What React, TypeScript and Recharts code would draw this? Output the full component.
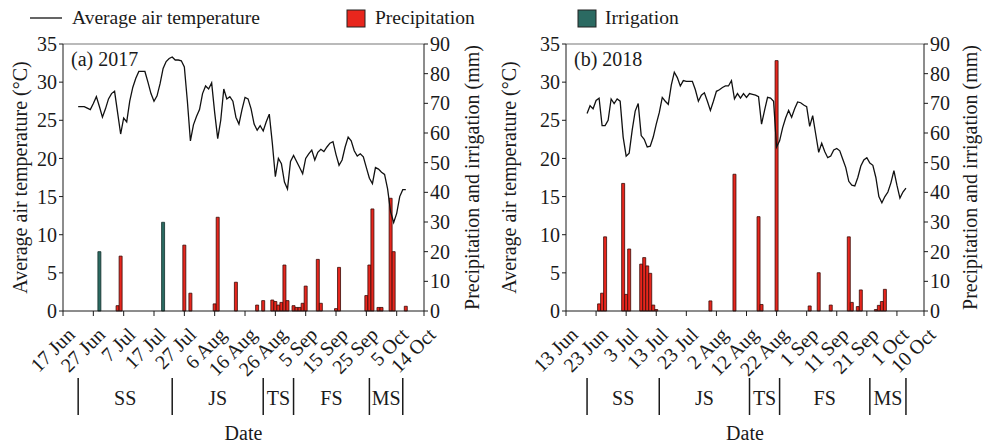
import React from 'react'
import { ComposedChart, Bar, Line, XAxis, YAxis, ReferenceLine } from 'recharts'

const FONT = '"Liberation Serif", "Times New Roman", serif'
const FS = 20
const INK = '#1a1a1a'
const RAIN_RED = '#e8261d'
const IRRIG_TEAL = '#2b6a62'

// x axis is "days since first tick"
const dateTicks = [0, 10, 20, 30, 40, 50, 60, 70, 80, 90, 100, 110, 119]
const dateLabels2017 = ['17 Jun', '27 Jun', '7 Jul', '17 Jul', '27 Jul', '6 Aug', '16 Aug', '26 Aug', '5 Sep', '15 Sep', '25 Sep', '5 Oct', '14 Oct']
const dateLabels2018 = ['13 Jun', '23 Jun', '3 Jul', '13 Jul', '23 Jul', '2 Aug', '12 Aug', '22 Aug', '1 Sep', '11 Sep', '21 Sep', '1 Oct', '10 Oct']

const tempTicks = [0, 5, 10, 15, 20, 25, 30, 35]
const rainTicks = [0, 10, 20, 30, 40, 50, 60, 70, 80, 90]

// daily mean air temperature (°C), first value is at day tempStart
const tempStart2017 = 5
const temp2017 = [
  26.8, 26.8, 26.8, 26.6, 26.4, 27.2, 28.1, 26.8, 25.4, 26.5,
  27.8, 28.5, 28.8, 26.0, 23.2, 25.3, 24.8, 27.5, 29.3, 30.5,
  31.4, 31.4, 31.4, 30.0, 28.5, 27.5, 28.2, 29.8, 31.8, 32.7,
  33.1, 33.3, 32.9, 32.9, 32.8, 32.0, 27.5, 22.3, 24.4, 25.5,
  26.4, 28.5, 29.5, 29.1, 29.9, 26.0, 22.6, 25.0, 29.1, 27.8,
  28.1, 27.5, 25.4, 24.5, 26.4, 28.0, 27.8, 26.5, 24.5, 23.7,
  24.3, 23.6, 24.8, 25.8, 22.0, 17.6, 20.0, 19.3, 16.9, 16.0,
  19.6, 20.4, 19.6, 18.8, 18.0, 20.0, 20.6, 21.1, 19.8, 20.8,
  21.2, 20.9, 21.5, 22.0, 22.2, 20.5, 19.1, 19.8, 21.5, 22.8,
  22.3, 21.0, 20.3, 20.6, 20.2, 18.8, 17.4, 16.7, 18.8, 18.6,
  18.2, 17.9, 16.0, 13.0, 11.6, 12.8, 15.0, 15.9, 15.9,
]
const tempStart2018 = 7
const temp2018 = [
  25.9, 26.9, 26.5, 27.6, 27.9, 24.3, 24.3, 25.0, 27.8, 27.2,
  27.8, 27.5, 22.8, 20.3, 20.7, 23.7, 26.2, 27.2, 23.0, 22.5,
  21.5, 21.6, 22.8, 24.5, 26.0, 28.0, 27.5, 27.1, 29.6, 31.3,
  30.6, 29.5, 30.2, 30.1, 30.1, 30.1, 29.0, 27.5, 28.3, 28.6,
  27.5, 26.3, 27.5, 28.8, 29.0, 29.3, 29.5, 29.5, 30.2, 27.8,
  28.5, 27.9, 28.5, 28.0, 28.5, 28.4, 28.3, 28.1, 24.5, 26.3,
  28.0, 27.9, 27.5, 21.5, 22.3, 24.0, 25.3, 26.3, 25.4, 26.5,
  27.4, 27.3, 27.0, 26.8, 24.2, 25.6, 23.2, 20.8, 22.0, 20.9,
  20.1, 20.3, 21.1, 21.3, 21.0, 19.9, 18.8, 17.0, 16.5, 16.4,
  17.5, 19.0, 19.8, 20.1, 19.4, 19.1, 17.5, 15.0, 14.2, 15.0,
  15.6, 16.8, 18.4, 16.5, 14.8, 15.6, 16.1,
]

// precipitation and irrigation (mm) by day
const precipDays2017 = [18, 19, 40, 42, 50, 51, 57, 64, 66, 69, 70, 71, 72, 73, 74, 76, 77, 78, 79, 80, 84, 85, 90, 91, 100, 101, 102, 104, 105, 108, 109, 113]
const precip2017 = [1.8, 18.5, 22.2, 6.0, 2.4, 31.6, 9.7, 2.0, 3.5, 3.7, 3.2, 2.0, 2.9, 15.5, 3.5, 1.8, 1.2, 1.2, 2.6, 8.4, 17.4, 2.6, 0.8, 14.7, 5.2, 15.5, 34.4, 1.2, 1.2, 38.0, 20.0, 1.6]
const irrigDays2017 = [12, 33]
const irrig2017 = [20.0, 29.9]

const precipDays2018 = [11, 12, 13, 19, 20, 21, 25, 26, 27, 28, 29, 30, 48, 56, 64, 65, 70, 81, 84, 88, 94, 95, 97, 98, 103, 104, 105, 106]
const precip2018 = [2.4, 6.0, 25.0, 43.0, 5.6, 20.9, 15.8, 18.0, 15.2, 12.7, 2.0, 0.5, 3.4, 46.1, 31.8, 2.2, 84.4, 1.7, 12.9, 2.0, 25.0, 2.9, 1.5, 7.1, 0.5, 1.9, 3.2, 7.3]
const irrigDays2018: number[] = []
const irrig2018: number[] = []

// growth stages, boundaries in days
const stageNames = ['SS', 'JS', 'TS', 'FS', 'MS']
const stageBounds2017 = [5, 36, 66, 76, 101, 112]
const stageBounds2018 = [7, 31, 61, 71, 101, 113]

function buildData(tempStart: number, temps: number[], pDays: number[], pVals: number[], iDays: number[], iVals: number[]) {
  return Array.from({ length: 120 }, (_, day) => {
    const ti = day - tempStart
    const pi = pDays.indexOf(day)
    const ii = iDays.indexOf(day)
    return {
      day,
      temp: ti >= 0 && ti < temps.length ? temps[ti] : null,
      precip: pi >= 0 ? pVals[pi] : null,
      irrig: ii >= 0 ? iVals[ii] : null,
    }
  })
}

const data2017 = buildData(tempStart2017, temp2017, precipDays2017, precip2017, irrigDays2017, irrig2017)
const data2018 = buildData(tempStart2018, temp2018, precipDays2018, precip2018, irrigDays2018, irrig2018)

function DateTick(props: any) {
  const { x, y, payload, labels } = props
  const i = dateTicks.indexOf(payload.value)
  const ax = x + 13
  const ay = y + 18
  return (
    <text x={ax} y={ay} textAnchor="end" transform={`rotate(-45, ${ax}, ${ay})`} fontSize={FS} fontFamily={FONT} fill={INK}>
      {labels[i]}
    </text>
  )
}

function StageTick(props: any) {
  const { x, y, payload, bounds } = props
  const v = payload.value
  if (bounds.includes(v)) {
    return <line x1={x} x2={x} y1={y + 1} y2={y + 38} stroke={INK} strokeWidth={1.5} />
  }
  const idx = bounds.findIndex((b: number, k: number) => k < bounds.length - 1 && v > b && v < bounds[k + 1])
  return (
    <text x={x} y={y + 28} textAnchor="middle" fontSize={FS} fontFamily={FONT} fill={INK}>
      {stageNames[idx]}
    </text>
  )
}

interface PanelProps {
  title: string
  data: ReturnType<typeof buildData>
  dateLabels: string[]
  bounds: number[]
  width: number
  leftW: number
  rightW: number
  leftOff: number
  rightOff: number
}

function Panel({ title, data, dateLabels, bounds, width, leftW, rightW, leftOff, rightOff }: PanelProps) {
  const stageTicks: number[] = []
  bounds.forEach((b, k) => {
    stageTicks.push(b)
    if (k < bounds.length - 1) stageTicks.push((b + bounds[k + 1]) / 2)
  })
  const textStyle = { fontSize: FS, fontFamily: FONT, fill: INK }

  return (
    <ComposedChart width={width} height={443} data={data} margin={{ top: 44, left: 0, right: 0, bottom: 3 }}>
      <XAxis
        dataKey="day"
        type="number"
        domain={[0, 119]}
        ticks={dateTicks}
        interval={0}
        height={66}
        tickSize={5}
        tickMargin={2}
        stroke={INK}
        tick={<DateTick labels={dateLabels} />}
      />
      <XAxis
        xAxisId="stage"
        dataKey="day"
        type="number"
        domain={[0, 119]}
        ticks={stageTicks}
        interval={0}
        height={63}
        tickSize={0}
        tickMargin={0}
        axisLine={false}
        tickLine={false}
        tick={<StageTick bounds={bounds} />}
        label={{ value: 'Date', position: 'insideBottom', offset: 0, style: textStyle }}
      />
      <YAxis
        yAxisId="temp"
        orientation="left"
        width={leftW}
        domain={[0, 35]}
        ticks={tempTicks}
        interval={0}
        tickSize={4}
        tickMargin={2}
        stroke={INK}
        tick={textStyle}
        label={{
          value: 'Average air temperature (°C)',
          angle: -90,
          position: 'insideLeft',
          offset: leftOff,
          style: { ...textStyle, textAnchor: 'middle' },
        }}
      />
      <YAxis
        yAxisId="rain"
        orientation="right"
        width={rightW}
        domain={[0, 90]}
        ticks={rainTicks}
        interval={0}
        tickSize={4}
        tickMargin={2}
        stroke={INK}
        tick={textStyle}
        label={{
          value: 'Precipitation and irrigation (mm)',
          angle: -90,
          position: 'insideRight',
          offset: rightOff,
          style: { ...textStyle, textAnchor: 'middle' },
        }}
      />
      <ReferenceLine
        yAxisId="temp"
        y={35}
        stroke="#777"
        strokeWidth={1.2}
        label={{ value: title, position: 'insideTopLeft', offset: 8, style: textStyle }}
      />
      <Bar yAxisId="rain" dataKey="precip" stackId="w" barSize={3} fill={RAIN_RED} stroke="#3a0b08" strokeWidth={0.8} isAnimationActive={false} />
      <Bar yAxisId="rain" dataKey="irrig" stackId="w" barSize={3} fill={IRRIG_TEAL} stroke="#14302c" strokeWidth={0.8} isAnimationActive={false} />
      <Line yAxisId="temp" dataKey="temp" type="linear" stroke="#111" strokeWidth={1.3} dot={false} isAnimationActive={false} />
    </ComposedChart>
  )
}

function LegendRow() {
  return (
    <svg width={985} height={36} style={{ position: 'absolute', left: 0, top: 0 }}>
      <line x1={30} x2={62} y1={18} y2={18} stroke="#111" strokeWidth={1.3} />
      <text x={72} y={24} fontSize={19.5} fontFamily={FONT} fill={INK}>Average air temperature</text>
      <rect x={347} y={10} width={18} height={17} fill={RAIN_RED} stroke="#222" strokeWidth={1} />
      <text x={375} y={24} fontSize={19.5} fontFamily={FONT} fill={INK}>Precipitation</text>
      <rect x={578} y={10} width={18} height={17} fill={IRRIG_TEAL} stroke="#222" strokeWidth={1} />
      <text x={605} y={24} fontSize={19.5} fontFamily={FONT} fill={INK}>Irrigation</text>
    </svg>
  )
}

export default function App() {
  return (
    <div style={{ position: 'absolute', left: 0, top: 0, width: 985, height: 443, background: '#fff', fontFamily: FONT }}>
      <LegendRow />
      <div style={{ position: 'absolute', left: 0, top: 0 }}>
        <Panel title="(a) 2017" data={data2017} dateLabels={dateLabels2017} bounds={stageBounds2017} width={490} leftW={63} rightW={66} leftOff={20} rightOff={18} />
      </div>
      <div style={{ position: 'absolute', left: 490, top: 0 }}>
        <Panel title="(b) 2018" data={data2018} dateLabels={dateLabels2018} bounds={stageBounds2018} width={495} leftW={76} rightW={61} leftOff={19} rightOff={15} />
      </div>
    </div>
  )
}
